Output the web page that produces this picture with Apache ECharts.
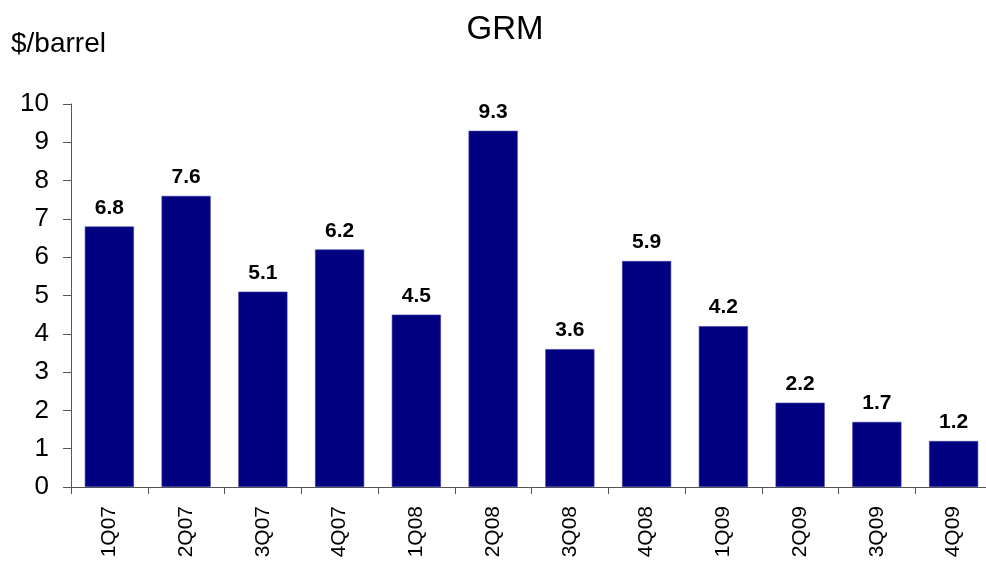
<!DOCTYPE html>
<html>
<head>
<meta charset="utf-8">
<script src="https://cdn.jsdelivr.net/npm/echarts@6/dist/echarts.min.js"></script>
<style>
  html, body { margin: 0; padding: 0; background: #fff; }
  #chart { width: 986px; height: 563px; }
</style>
</head>
<body>
<div id="chart"></div>
<script>
var quarters = ["1Q07", "2Q07", "3Q07", "4Q07", "1Q08", "2Q08", "3Q08", "4Q08", "1Q09", "2Q09", "3Q09", "4Q09"];
var grm = [6.8, 7.6, 5.1, 6.2, 4.5, 9.3, 3.6, 5.9, 4.2, 2.2, 1.7, 1.2];
var yTicks = [0, 10, 1]; // min, max, step

(function () {
    var mychart = echarts.init(document.getElementById("chart"));
    var font = "Liberation Sans, Arial, sans-serif";

    var option = {
        backgroundColor: "#fff",
        animation: false,
        title: {
            text: "GRM",
            left: 500,
            textAlign: "center",
            top: 8,
            textStyle: { fontSize: 33, fontWeight: "normal", color: "#000", fontFamily: font }
        },
        grid: { left: 71, width: 921, top: 104, bottom: 76, containLabel: false, outerBoundsMode: "none" },
        xAxis: {
            type: "category",
            data: quarters,
            axisLine: { lineStyle: { color: "#555", width: 1 } },
            axisTick: { show: true, length: 7, lineStyle: { color: "#555" } },
            axisLabel: {
                rotate: 90,
                interval: 0,
                margin: 19,
                fontSize: 21,
                color: "#000",
                fontFamily: font
            },
            splitLine: { show: false }
        },
        yAxis: {
            type: "value",
            name: "$/barrel",
            nameLocation: "end",
            nameGap: 0,
            nameTextStyle: {
                fontSize: 28, color: "#000", fontFamily: font,
                align: "left", padding: [0, 0, 46, -60]
            },
            min: yTicks[0],
            max: yTicks[1],
            interval: yTicks[2],
            axisLine: { show: true, lineStyle: { color: "#555" } },
            axisTick: { show: true, length: 8, lineStyle: { color: "#555" } },
            axisLabel: { fontSize: 26, color: "#000", fontFamily: font, margin: 22 },
            splitLine: { show: false }
        },
        series: [{
            type: "bar",
            data: grm,
            barCategoryGap: "36%",
            itemStyle: { color: "#000080", borderColor: "#3a3aa0", borderWidth: 0.6 },
            label: {
                show: true,
                position: "top",
                distance: 8,
                fontSize: 21,
                fontWeight: "bold",
                color: "#000",
                fontFamily: font,
                formatter: function (p) { return p.value.toFixed(1); }
            }
        }]
    };
    mychart.setOption(option);
})();
</script>
</body>
</html>
